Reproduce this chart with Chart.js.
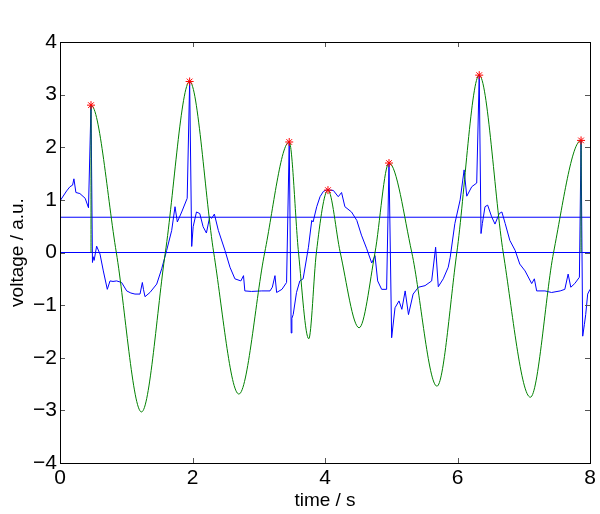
<!DOCTYPE html>
<html>
<head>
<meta charset="utf-8">
<script src="https://cdn.jsdelivr.net/npm/chart.js@4.4.0/dist/chart.umd.min.js"></script>
<style>
  html, body { margin: 0; padding: 0; background: #fff; }
</style>
</head>
<body>
<canvas id="ecgChart" width="600" height="514"></canvas>
<script>
// recorded signal (blue trace)
const signalTime = [
  0.00, 0.10, 0.15, 0.19, 0.21, 0.24, 0.30, 0.38, 0.43, 0.468, 0.49, 0.50, 0.515, 0.553, 0.604,
  0.654, 0.714, 0.755, 0.80, 0.855, 0.93, 1.007, 1.07, 1.132, 1.208, 1.243, 1.26, 1.283, 1.358,
  1.46, 1.535, 1.61, 1.686, 1.736, 1.771, 1.837, 1.92, 1.957, 1.988, 2.01, 2.06, 2.11, 2.16, 2.21,
  2.26, 2.29, 2.33, 2.39, 2.49, 2.566, 2.64, 2.73, 2.77, 2.79, 2.89, 3.045, 3.17, 3.205, 3.245,
  3.27, 3.35, 3.42, 3.46, 3.49, 3.50, 3.52, 3.57, 3.62, 3.67, 3.75, 3.80, 3.82, 3.875, 3.925,
  3.975, 4.025, 4.125, 4.20, 4.25, 4.30, 4.40, 4.48, 4.55, 4.63, 4.705, 4.755, 4.795, 4.855,
  4.93, 4.966, 5.006, 5.057, 5.117, 5.16, 5.21, 5.26, 5.33, 5.41, 5.51, 5.61, 5.67, 5.71, 5.785,
  5.86, 5.89, 5.96, 6.04, 6.10, 6.14, 6.215, 6.29, 6.328, 6.355, 6.375, 6.415, 6.455, 6.515,
  6.566, 6.63, 6.67, 6.72, 6.79, 6.87, 6.94, 7.02, 7.12, 7.16, 7.195, 7.32, 7.42, 7.55, 7.62,
  7.67, 7.71, 7.77, 7.84, 7.865, 7.89, 7.915, 7.935, 7.965, 8.00
];
const signalVolt = [
  0.98, 1.17, 1.25, 1.28, 1.40, 1.14, 1.12, 1.03, 0.85, 2.80, -0.19, -0.08, -0.15, 0.12, -0.03,
  -0.35, -0.70, -0.54, -0.55, -0.54, -0.57, -0.73, -0.77, -0.79, -0.79, -0.57, -0.70, -0.84, -0.76,
  -0.60, -0.31, 0.04, 0.42, 0.87, 0.58, 0.77, 1.03, 3.25, 0.115, 0.49, 0.77, 0.74, 0.49, 0.37,
  0.68, 0.65, 0.73, 0.42, 0.04, -0.28, -0.50, -0.54, -0.44, -0.73, -0.74, -0.73, -0.73, -0.66, -0.44,
  -0.76, -0.70, -0.57, 2.10, -1.53, -1.25, -1.18, -0.76, -0.54, -0.50, 0.10, 0.61, 0.58, 0.87, 1.06,
  1.16, 1.19, 1.18, 1.06, 1.14, 0.87, 0.77, 0.61, 0.33, 0.07, -0.20, -0.06, -0.54, -0.70,
  -0.70, 1.70, -1.62, -1.05, -0.92, -1.08, -0.73, -1.18, -0.79, -0.66, -0.63, -0.54, 0.10, -0.65, -0.50,
  -0.28, -0.09, 0.55, 1.00, 1.57, 1.07, 1.25, 1.32, 3.37, 0.36, 0.55, 0.87, 0.90, 0.68,
  0.54, 0.74, 0.77, 0.55, 0.23, 0.04, -0.22, -0.35, -0.59, -0.50, -0.73, -0.73, -0.76, -0.73, -0.70,
  -0.41, -0.66, -0.59, -0.47, 2.13, -1.59, -1.37, -1.18, -0.79, -0.70
];

// fitted wave (green): turning points and zero crossings, with a drop to zero at both ends
const fitTime = [
  0.468, 0.468, 0.85, 1.23, 1.59, 1.957, 2.32, 2.70, 3.09, 3.46, 3.60, 3.755, 3.87, 4.045,
  4.23, 4.515, 4.755, 4.966, 5.31, 5.69, 5.99, 6.328, 6.69, 7.10, 7.45, 7.865, 7.865
];
const fitVolt = [
  0, 2.80, 0, -3.03, 0, 3.25, 0, -2.69, 0, 2.10, 0, -1.64, 0, 1.185,
  0, -1.43, 0, 1.70, 0, -2.54, 0, 3.37, 0, -2.75, 0, 2.13, 0
];

// detected peaks (red stars)
const peakTime = [0.468, 1.957, 3.46, 4.045, 4.966, 6.328, 7.865];
const peakVolt = [2.80, 3.25, 2.10, 1.185, 1.70, 3.37, 2.13];

// horizontal reference levels
const levelValues = [0, 0.67];

const xTicks = [0, 2, 4, 6, 8];
const yTicks = [-4, -3, -2, -1, 0, 1, 2, 3, 4];

function toPoints(xs, ys) {
  return xs.map((x, i) => ({ x: x, y: ys[i] }));
}

// frame and inward tick marks, matlab style
const frameTicks = {
  id: 'frameTicks',
  afterDraw(chart) {
    const ctx = chart.ctx;
    const a = chart.chartArea;
    const xs = chart.scales.x;
    const ys = chart.scales.y;
    const len = 5;
    ctx.save();
    ctx.strokeStyle = '#555';
    ctx.lineWidth = 1;
    ctx.beginPath();
    xTicks.forEach(v => {
      const px = Math.round(xs.getPixelForValue(v)) + 0.5;
      ctx.moveTo(px, a.bottom); ctx.lineTo(px, a.bottom - len);
      ctx.moveTo(px, a.top); ctx.lineTo(px, a.top + len);
    });
    yTicks.forEach(v => {
      const py = Math.round(ys.getPixelForValue(v)) + 0.5;
      ctx.moveTo(a.left, py); ctx.lineTo(a.left + len, py);
      ctx.moveTo(a.right, py); ctx.lineTo(a.right - len, py);
    });
    ctx.stroke();
    ctx.strokeStyle = '#000';
    ctx.strokeRect(Math.round(a.left) + 0.5, Math.round(a.top) + 0.5,
      Math.round(a.right - a.left), Math.round(a.bottom - a.top));
    ctx.restore();
  }
};

const levelSets = levelValues.map(lv => ({
  data: toPoints([xTicks[0], xTicks[xTicks.length - 1]], [lv, lv]),
  showLine: true,
  borderColor: 'rgb(0,0,255)',
  borderWidth: 1,
  pointRadius: 0,
  order: 3
}));

new Chart(document.getElementById('ecgChart'), {
  type: 'scatter',
  data: {
    datasets: [
      {
        data: toPoints(peakTime, peakVolt),
        pointStyle: 'star',
        pointRadius: 4,
        borderColor: 'rgb(255,0,0)',
        backgroundColor: 'rgb(255,0,0)',
        borderWidth: 1,
        order: 0
      },
      {
        data: toPoints(fitTime, fitVolt),
        showLine: true,
        cubicInterpolationMode: 'monotone',
        borderColor: 'rgb(0,128,0)',
        borderWidth: 1,
        pointRadius: 0,
        order: 1
      },
      ...levelSets,
      {
        data: toPoints(signalTime, signalVolt),
        showLine: true,
        borderColor: 'rgb(0,0,255)',
        borderWidth: 1,
        pointRadius: 0,
        order: 4
      }
    ]
  },
  options: {
    responsive: false,
    animation: false,
    layout: { padding: { top: 42, right: 10, left: 0, bottom: 0 } },
    plugins: {
      legend: { display: false },
      tooltip: { enabled: false }
    },
    scales: {
      x: {
        type: 'linear',
        min: 0,
        max: 8,
        afterBuildTicks: s => { s.ticks = xTicks.map(v => ({ value: v })); },
        afterFit: s => { s.height = 51; },
        grid: { display: false, drawTicks: false },
        border: { display: false },
        ticks: {
          padding: 3,
          color: '#000',
          font: { family: 'Liberation Sans', size: 21 },
          maxRotation: 0
        },
        title: {
          display: true,
          text: 'time / s',
          color: '#000',
          font: { family: 'Liberation Sans', size: 19 },
          padding: { top: 0, bottom: 2 }
        }
      },
      y: {
        type: 'linear',
        min: -4,
        max: 4,
        afterBuildTicks: s => { s.ticks = yTicks.map(v => ({ value: v })); },
        afterFit: s => { s.width = 60; },
        grid: { display: false, drawTicks: false },
        border: { display: false },
        ticks: {
          padding: 3,
          color: '#000',
          font: { family: 'Liberation Sans', size: 21 },
          callback: v => (v < 0 ? '\u2212' + Math.abs(v) : String(v))
        },
        title: {
          display: true,
          text: 'voltage / a.u.',
          color: '#000',
          font: { family: 'Liberation Sans', size: 19 },
          padding: { top: 6, bottom: 0 }
        }
      }
    }
  },
  plugins: [frameTicks]
});
</script>
</body>
</html>
